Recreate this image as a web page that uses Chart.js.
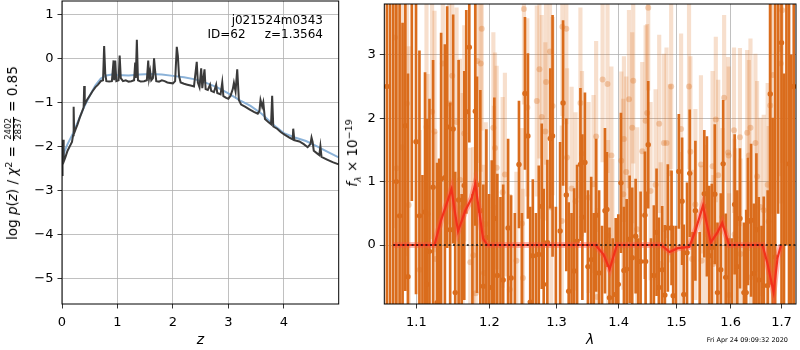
<!DOCTYPE html>
<html>
<head>
<meta charset="utf-8">
<script src="https://cdn.jsdelivr.net/npm/chart.js@4.4.1/dist/chart.umd.min.js"></script>
<style>
    body { margin: 0; background: #fff; font-family: "DejaVu Sans", sans-serif; }
    #wrap { position: relative; width: 800px; height: 350px; overflow: hidden; }
    #pzChart { position: absolute; left: 0; top: 0; }
    #specChart { position: absolute; left: 340px; top: 0; }
    .lab { position: absolute; white-space: nowrap; color: #000; }
    .rot { transform: translate(-50%, -50%) rotate(-90deg); font-size: 13.5px; }
    .frac { display: inline-block; vertical-align: middle; text-align: center; font-size: 8.5px; line-height: 1; margin: 0 1px; }
    .frac span { display: block; padding: 0 1px; }
    .frac span:first-child { border-bottom: 0.8px solid #000; }
    sup, sub { font-size: 9.5px; line-height: 0; }
    .note { font-size: 12px; line-height: 14px; text-align: right; white-space: pre; }
</style>
</head>
<body>
<div id="wrap">
    <canvas id="pzChart" width="340" height="350"></canvas>
    <canvas id="specChart" width="460" height="350"></canvas>
    <div class="lab rot" style="left:13px; top:153px;">log <i>p</i>(<i>z</i>) / <i>χ</i><sup>2</sup> = <span class="frac"><span>2402</span><span>2837</span></span> = 0.85</div>
    <div class="lab rot" style="left:352px; top:153px;"><i>f</i><sub><i>λ</i></sub> × 10<sup>−19</sup></div>
    <div class="lab note" style="right:477px; top:13px;">j021524m0343</div>
    <div class="lab note" style="right:477px; top:27px;">ID=62     z=1.3564</div>
    <div class="lab" style="right:12px; top:336px; font-size:6.5px;">Fri Apr 24 09:09:32 2020</div>
</div>
<script>
    // p(z) panel
    const zGrid = [0.00, 0.01, 0.02, 0.03, 0.06, 0.10, 0.14, 0.18, 0.20, 0.21, 0.22, 0.25, 0.28, 0.32, 0.36, 0.39, 0.40, 0.41,
        0.45, 0.50, 0.55, 0.60, 0.65, 0.70, 0.74, 0.76, 0.78, 0.80, 0.85, 0.90, 0.93, 0.94, 0.96, 0.98, 1.02, 1.04, 1.06,
        1.10, 1.15, 1.20, 1.25, 1.30, 1.32, 1.33, 1.35, 1.37, 1.42, 1.48, 1.53, 1.555, 1.57, 1.59, 1.61, 1.64, 1.66, 1.68,
        1.70, 1.75, 1.80, 1.85, 1.90, 1.95, 2.00, 2.04, 2.07, 2.09, 2.11, 2.14, 2.20, 2.26, 2.32, 2.38, 2.43, 2.45, 2.48,
        2.51, 2.53, 2.57, 2.59, 2.63, 2.67, 2.69, 2.74, 2.78, 2.80, 2.86, 2.89, 2.91, 2.96, 3.00, 3.04, 3.08, 3.10, 3.13,
        3.16, 3.19, 3.23, 3.30, 3.38, 3.46, 3.53, 3.56, 3.58, 3.61, 3.63, 3.66, 3.72, 3.77, 3.79, 3.81, 3.88, 3.95, 4.02,
        4.10, 4.16, 4.17, 4.19, 4.28, 4.36, 4.43, 4.48, 4.50, 4.52, 4.54, 4.60, 4.64, 4.66, 4.68, 4.78, 4.88, 4.99];
    const logpDark = [-2.65, -2.45, -1.85, -2.35, -2.25, -2.10, -2.00, -1.90, -1.75, -1.10, -1.70, -1.60, -1.50, -1.35, -1.22, -1.12, -0.63, -1.05,
        -0.95, -0.85, -0.75, -0.66, -0.60, -0.52, -0.50, 0.28, -0.35, -0.52, -0.53, -0.52, -0.05, -0.50, -0.05, -0.52, -0.50, 0.06, -0.45,
        -0.52, -0.50, -0.53, -0.52, -0.50, -0.10, -0.45, 0.42, -0.50, -0.53, -0.52, -0.50, -0.05, -0.45, -0.30, -0.50, -0.45, 0.00, -0.30,
        -0.52, -0.53, -0.50, -0.52, -0.55, -0.56, -0.57, -0.52, 0.26, 0.05, -0.40, -0.55, -0.58, -0.60, -0.62, -0.64, -0.08, -0.55, -0.66,
        -0.23, -0.68, -0.25, -0.70, -0.72, -0.60, -0.74, -0.77, -0.60, -0.79, -0.82, -0.55, -0.86, -0.90, -0.92, -0.85, -0.70, -0.56, -0.75,
        -0.25, -0.95, -1.05, -1.10, -1.16, -1.22, -1.26, -1.20, -0.95, -1.10, -1.00, -1.38, -1.45, -1.50, -0.85, -1.55, -1.60, -1.68, -1.74,
        -1.80, -1.84, -1.60, -1.86, -1.89, -1.95, -2.02, -1.95, -1.80, -1.90, -2.10, -2.16, -2.20, -2.00, -2.24, -2.30, -2.36, -2.41];
    const zSmooth = [0.00, 0.05, 0.10, 0.20, 0.30, 0.40, 0.50, 0.60, 0.70, 0.80, 0.90, 1.00, 1.20, 1.40, 1.60, 1.80, 2.00, 2.20,
        2.40, 2.60, 2.80, 3.00, 3.20, 3.40, 3.60, 3.80, 4.00, 4.20, 4.40, 4.60, 4.80, 4.99];
    const logpSmooth = [-2.38, -2.10, -1.95, -1.70, -1.40, -1.10, -0.85, -0.62, -0.46, -0.39, -0.37, -0.38, -0.39, -0.37, -0.36, -0.37, -0.40, -0.43,
        -0.48, -0.56, -0.66, -0.80, -0.95, -1.08, -1.26, -1.50, -1.70, -1.80, -1.88, -2.00, -2.13, -2.25];
    const zTicks = [0, 1, 2, 3, 4];
    const logpTicks = [-5, -4, -3, -2, -1, 0, 1];

    // spectrum panel
    const lamDark = [1.062, 1.066, 1.070, 1.074, 1.0782, 1.0820, 1.0856, 1.0890, 1.0940, 1.0995, 1.1040, 1.1080, 1.1114, 1.1141, 1.1173,
        1.1221, 1.1275, 1.1302, 1.1329, 1.1380, 1.1411, 1.1452, 1.1493, 1.1521, 1.1568, 1.1610, 1.1646, 1.1674, 1.1716, 1.1760,
        1.1800, 1.1824, 1.1871, 1.1914, 1.1957, 1.1995, 1.2034, 1.2071, 1.2114, 1.2160, 1.2199, 1.2271, 1.2315, 1.2370, 1.2431,
        1.2475, 1.2520, 1.2564, 1.2599, 1.2638, 1.2685, 1.2728, 1.2773, 1.2803, 1.2859, 1.2904, 1.2939, 1.2990, 1.3056, 1.3102,
        1.3153, 1.3190, 1.3235, 1.3276, 1.3323, 1.3376, 1.3407, 1.3448, 1.3496, 1.3549, 1.3590, 1.3629, 1.3677, 1.3725, 1.3773,
        1.3805, 1.3847, 1.3900, 1.3951, 1.3994, 1.4038, 1.4088, 1.4134, 1.4184, 1.4228, 1.4286, 1.4330, 1.4371, 1.4445, 1.4457,
        1.4502, 1.4550, 1.4600, 1.4647, 1.4687, 1.4745, 1.4793, 1.4845, 1.4911, 1.4940, 1.4990, 1.5041, 1.5100, 1.5130, 1.5189,
        1.5238, 1.5290, 1.5341, 1.5420, 1.5505, 1.5553, 1.5597, 1.5645, 1.5700, 1.5750, 1.5812, 1.5857, 1.5906, 1.5960, 1.6020,
        1.6076, 1.6127, 1.6178, 1.6255, 1.6299, 1.6332, 1.6395, 1.6448, 1.6498, 1.6545, 1.6600, 1.6643, 1.6722, 1.6773, 1.6820,
        1.6872, 1.6930, 1.7000, 1.7050, 1.7100, 1.7153, 1.7200, 1.7250];
    const fluxDark = [2.5, -1.2, 4.6, 1.0, 0.46, -1.5, 1.88, -0.50, 4.2, 1.63, 0.46, -1.3, 0.52, -0.62, -0.10,
        0.91, -0.91, -0.64, 1.04, 1.06, 1.86, 0.24, 1.83, -0.75, 0.71, -1.1, 0.94, 2.10, 3.12, -1.2,
        2.11, 0.95, 0.54, -0.65, 0.12, -1.0, -0.67, 0.42, -0.48, -1.05, -0.55, 0.27, -0.52, -1.1, 1.27,
        -1.0, 2.39, 1.72, -0.90, -0.17, -1.1, -0.15, 0.61, -0.62, 0.04, 1.68, 1.72, -1.0, 0.22, 2.24,
        0.79, -0.73, -1.1, -0.41, 0.06, 1.27, 0.44, 1.30, -0.34, -0.23, -1.0, 0.47, -0.44, -1.1, 0.54,
        0.56, -0.83, -1.2, -0.78, -0.62, 0.98, -0.40, -0.38, 0.09, -0.20, 0.14, -1.0, -0.26, 0.47, -0.26,
        1.58, -1.1, -0.48, 0.20, -0.67, -0.39, -0.79, 0.27, 0.27, -0.80, -1.0, 1.16, 0.69, -0.78, -0.12,
        1.13, -1.0, 0.54, -1.1, 0.81, 0.61, -0.17, -0.04, 0.80, -0.75, -0.39, 1.28, -0.51, -1.1, -1.0,
        0.64, -0.34, 0.42, -0.75, -0.75, 0.37, 0.39, -0.45, 0.24, -0.55, -1.1, -0.64, -0.64, 2.38, -1.5,
        -0.19, 4.5, 3.19, -1.8, 5.0, 1.28, -2.0, 2.5];
    const errDark = [6.0, 5.5, 6.0, 5.0, 3.6, 5.0, 2.6, 3.2, 3.5, 2.4, 2.6, 2.4, 2.2, 2.6, 2.4,
        2.0, 2.2, 2.0, 2.3, 2.1, 1.9, 2.0, 1.8, 1.9, 2.2, 1.9, 1.8, 1.6, 1.5, 2.0,
        1.8, 1.7, 1.9, 1.6, 1.7, 1.8, 2.0, 1.9, 1.6, 1.8, 1.5, 1.4, 1.3, 1.6, 1.0,
        1.5, 1.2, 1.3, 1.5, 1.2, 1.6, 1.4, 1.3, 1.5, 1.3, 1.1, 1.9, 1.6, 1.4, 1.3,
        1.2, 1.4, 1.6, 1.3, 1.2, 1.2, 1.3, 1.1, 1.2, 1.3, 1.5, 1.2, 1.3, 1.4, 1.3,
        0.9, 1.1, 1.3, 1.2, 1.1, 1.1, 1.0, 1.1, 1.0, 1.1, 0.9, 1.1, 1.1, 1.0, 1.1,
        1.0, 1.2, 1.1, 1.0, 1.1, 1.0, 1.1, 1.0, 0.9, 1.1, 1.3, 0.9, 1.0, 1.1, 1.1,
        1.0, 1.2, 1.1, 1.3, 1.0, 1.1, 1.1, 1.0, 1.1, 1.1, 1.2, 1.0, 1.0, 1.2, 1.1,
        1.1, 1.2, 1.1, 1.1, 1.3, 1.0, 1.2, 1.1, 1.2, 1.3, 1.4, 1.4, 1.5, 3.0, 3.5,
        4.0, 4.0, 4.5, 4.5, 5.0, 4.5, 5.0, 5.0];

    const lamLight = [1.0724, 1.0743, 1.0812, 1.0877, 1.0899, 1.1044, 1.1133, 1.1150, 1.1208, 1.1240, 1.1253, 1.1352, 1.1438, 1.1480,
        1.1540, 1.1586, 1.1623, 1.1646, 1.1730, 1.1772, 1.1806, 1.1829, 1.1877, 1.1891, 1.1924, 1.1948, 1.2057, 1.2064, 1.2081,
        1.2105, 1.2191, 1.2224, 1.2296, 1.2393, 1.2475, 1.2490, 1.2505, 1.2555, 1.2698, 1.2738, 1.2773, 1.2828, 1.2839, 1.2899,
        1.2919, 1.2939, 1.3082, 1.3091, 1.3153, 1.3164, 1.3236, 1.3298, 1.3376, 1.3401, 1.3507, 1.3586, 1.3629, 1.3641, 1.3734,
        1.3815, 1.3826, 1.3879, 1.3896, 1.4043, 1.4077, 1.4088, 1.4127, 1.4173, 1.4228, 1.4245, 1.4313, 1.4399, 1.4457, 1.4484,
        1.4502, 1.4543, 1.4630, 1.4693, 1.4717, 1.4775, 1.4822, 1.4881, 1.4904, 1.5071, 1.5082, 1.5225, 1.5250, 1.5279, 1.5341,
        1.5443, 1.5456, 1.5534, 1.5658, 1.5671, 1.5719, 1.5764, 1.5844, 1.5876, 1.5951, 1.5962, 1.5970, 1.6064, 1.6076, 1.6089,
        1.6178, 1.6190, 1.6318, 1.6351, 1.6382, 1.6391, 1.6479, 1.6512, 1.6576, 1.6643, 1.6722, 1.6741, 1.6773, 1.6826, 1.6971,
        1.6985, 1.7012];
    const fluxLight = [3.27, 1.21, 1.54, 2.23, 0.63, -0.39, 1.86, 0.49, 2.10, 1.79, -0.22, 2.86, 2.23, 2.67,
        1.94, 1.03, 0.59, 1.76, -0.27, -0.16, -0.76, 2.90, 2.86, 3.41, -0.44, 0.33, 1.85, 0.59, 1.53,
        1.22, 0.83, 1.11, -0.70, -0.25, 0.34, -0.52, 3.72, 2.17, 2.27, 2.77, 2.02, 1.79, 2.57, 3.05,
        0.59, 2.19, 0.38, 3.44, 3.41, 1.38, 0.89, 0.69, 2.24, 1.44, 0.75, 0.96, 1.71, -0.82, 2.61,
        2.54, 0.15, 1.41, -0.25, 1.33, 0.80, 1.67, 1.15, 2.30, 1.85, 2.59, 0.25, 1.48, 1.96, 2.08,
        3.74, 0.85, 0.95, 1.91, -0.30, 1.61, 1.61, 1.13, 2.50, -0.04, 1.83, 2.50, 1.47, -0.22, 0.64,
        1.27, -0.25, 0.17, 1.24, -0.30, 1.98, 1.10, 0.44, 2.32, 1.46, 1.41, -0.79, 1.81, 0.17, 0.12,
        1.70, -0.14, 1.77, 1.41, 1.85, -0.51, 1.61, 1.08, 0.60, 0.55, 0.95, 0.37, 2.20, 2.68, 3.09,
        2.86, 3.70];
    const errLight = [3.0, 2.8, 2.6, 2.4, 2.5, 2.2, 2.0, 2.2, 2.0, 1.9, 2.0, 1.8, 1.9, 1.7,
        1.8, 1.9, 1.8, 1.7, 1.8, 1.7, 1.9, 1.6, 1.7, 1.6, 1.7, 1.6, 1.5, 1.6, 1.5,
        1.6, 1.5, 1.6, 1.5, 1.4, 1.5, 1.4, 1.5, 1.4, 1.5, 1.4, 1.6, 1.4, 1.3, 1.4,
        1.5, 1.4, 1.5, 1.4, 1.5, 1.4, 1.6, 1.4, 1.5, 1.3, 1.5, 1.4, 1.5, 1.4, 1.3,
        1.4, 1.5, 1.4, 1.6, 1.4, 1.5, 1.3, 1.5, 1.4, 1.5, 1.3, 1.6, 1.4, 1.5, 1.4,
        1.3, 1.4, 1.5, 1.4, 1.6, 1.4, 1.5, 1.4, 1.3, 1.5, 1.5, 1.3, 1.5, 1.4, 1.5,
        1.4, 1.5, 1.4, 1.5, 1.4, 1.3, 1.5, 1.4, 1.3, 1.5, 1.4, 1.6, 1.3, 1.5, 1.4,
        1.4, 1.5, 1.3, 1.5, 1.4, 1.5, 1.4, 1.5, 1.4, 1.5, 1.6, 1.5, 1.7, 1.8, 2.0,
        2.2, 2.4];

    const lamModel = [1.070, 1.124, 1.1325, 1.139, 1.147, 1.152, 1.156, 1.166, 1.175, 1.180, 1.191, 1.197, 1.362, 1.375,
        1.385, 1.397, 1.4727, 1.4877, 1.502, 1.523, 1.535, 1.548, 1.5625, 1.575, 1.584, 1.597, 1.662, 1.672, 1.684, 1.692, 1.699];
    const fluxModel = [0, 0, 0.38, 0.60, 0.88, 0.50, 0.22, 0.54, 0.74, 0.96, 0.10, 0, 0, -0.15,
        -0.38, 0, 0, -0.11, -0.05, -0.03, 0.25, 0.62, 0.04, 0.20, 0.35, 0, 0, -0.30, -0.74, -0.20, 0];
    const lamZero = [1.070, 1.7296];
    const lamTicks = [1.1, 1.2, 1.3, 1.4, 1.5, 1.6, 1.7];
    const fluxTicks = [0, 1, 2, 3];

    const tickFont = { family: "DejaVu Sans", size: 13 };
    const gridStyle = { color: "#b0b0b0", lineWidth: 0.8, tickColor: "#000", tickLength: 4.5, offset: false };
    const minusSign = v => (v < 0 ? "\u2212" + (-v) : String(v));

    const framePlugin = {
        id: "frame",
        afterDraw(chart) {
            const a = chart.chartArea;
            const ctx = chart.ctx;
            ctx.save();
            ctx.strokeStyle = "#000";
            ctx.lineWidth = 1;
            ctx.strokeRect(a.left, a.top, a.right - a.left, a.bottom - a.top);
            ctx.restore();
        }
    };

    // chart.js keeps room for half a tick label at each end; the plot must fill the box
    function fixBox(s, size) {
        if (s.isHorizontal()) s.height = size;
        else s.width = size;
        s.paddingTop = 0;
        s.paddingBottom = 0;
        s.paddingLeft = 0;
        s.paddingRight = 0;
    }

    function pairs(xs, ys) {
        return xs.map((x, i) => ({ x: x, y: ys[i] }));
    }

    function pzChart() {
        new Chart(document.getElementById("pzChart"), {
            type: "line",
            data: {
                datasets: [
                    { data: pairs(zGrid, logpDark), borderColor: "#3a3a3a", borderWidth: 2, pointRadius: 0 },
                    { data: pairs(zSmooth, logpSmooth), borderColor: "rgba(126,170,212,0.9)", borderWidth: 2, pointRadius: 0 }
                ]
            },
            options: {
                responsive: false,
                animation: false,
                layout: { padding: { top: 1, right: 1.3, left: 0, bottom: 0 } },
                plugins: { legend: { display: false }, tooltip: { enabled: false } },
                scales: {
                    x: {
                        type: "linear", min: 0, max: 4.99,
                        afterBuildTicks: s => { s.ticks = zTicks.map(v => ({ value: v })); },
                        afterFit: s => fixBox(s, 46),
                        ticks: { font: tickFont, color: "#000", padding: 6, maxRotation: 0, autoSkip: false, callback: minusSign },
                        grid: gridStyle,
                        border: { display: false },
                        title: { display: true, text: "z", color: "#000", font: { family: "DejaVu Sans", size: 14, style: "italic" }, padding: { top: 0, bottom: 1 } }
                    },
                    y: {
                        type: "linear", min: -5.58, max: 1.30,
                        afterBuildTicks: s => { s.ticks = logpTicks.map(v => ({ value: v })); },
                        afterFit: s => fixBox(s, 62),
                        ticks: { font: tickFont, color: "#000", padding: 4, autoSkip: false, callback: minusSign },
                        grid: gridStyle,
                        border: { display: false }
                    }
                }
            },
            plugins: [framePlugin]
        });
    }

    function specChart() {
        const orange = "rgb(218,108,28)";
        new Chart(document.getElementById("specChart"), {
            type: "bar",
            data: {
                datasets: [
                    { type: "line", data: pairs(lamZero, [0, 0]), borderColor: "#111", borderWidth: 1.6, borderDash: [2, 2.6], pointRadius: 0, clip: 0 },
                    { type: "line", data: pairs(lamModel, fluxModel), borderColor: "rgba(242,45,25,0.95)", borderWidth: 2.2, pointRadius: 0, clip: 0 },
                    { type: "line", data: pairs(lamModel, fluxModel), borderColor: "rgba(255,80,60,0.4)", borderWidth: 6, pointRadius: 0, clip: 0 },
                    { type: "scatter", data: pairs(lamDark, fluxDark), backgroundColor: orange, borderWidth: 0, pointRadius: 2.7, clip: 0 },
                    {
                        data: lamDark.map((l, i) => ({ x: l, y: [fluxDark[i] - errDark[i], fluxDark[i] + errDark[i]] })),
                        backgroundColor: orange, barThickness: 2, grouped: false, borderWidth: 0, clip: 0
                    },
                    { type: "scatter", data: pairs(lamLight, fluxLight), backgroundColor: "rgba(218,108,28,0.3)", borderWidth: 0, pointRadius: 3, clip: 0 },
                    {
                        data: lamLight.map((l, i) => ({ x: l, y: [fluxLight[i] - errLight[i], fluxLight[i] + errLight[i]] })),
                        backgroundColor: "rgba(218,108,28,0.22)", barThickness: 3.5, grouped: false, borderWidth: 0, clip: 0
                    }
                ]
            },
            options: {
                responsive: false,
                animation: false,
                layout: { padding: { top: 1, right: 0.7, left: 0, bottom: 0 } },
                plugins: { legend: { display: false }, tooltip: { enabled: false } },
                scales: {
                    x: {
                        type: "logarithmic", min: 1.0587, max: 1.7296, offset: false, z: 1,
                        afterBuildTicks: s => { s.ticks = lamTicks.map(v => ({ value: v })); },
                        afterFit: s => fixBox(s, 46),
                        ticks: { font: tickFont, color: "#000", padding: 6, maxRotation: 0, autoSkip: false, callback: v => Number(v).toFixed(1) },
                        grid: gridStyle,
                        border: { display: false },
                        title: { display: true, text: "λ", color: "#000", font: { family: "DejaVu Sans", size: 14, style: "italic" }, padding: { top: 0, bottom: 1 } }
                    },
                    y: {
                        type: "linear", min: -0.93, max: 3.80, z: 1,
                        afterBuildTicks: s => { s.ticks = fluxTicks.map(v => ({ value: v })); },
                        afterFit: s => fixBox(s, 44.3),
                        ticks: { font: tickFont, color: "#000", padding: 4, autoSkip: false },
                        grid: gridStyle,
                        border: { display: false }
                    }
                }
            },
            plugins: [framePlugin]
        });
    }

    pzChart();
    specChart();
</script>
</body>
</html>
